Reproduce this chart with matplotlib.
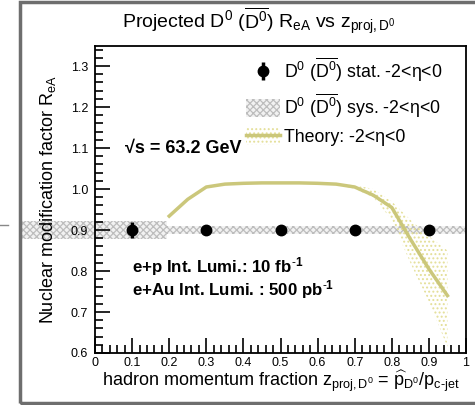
import matplotlib
matplotlib.use('Agg')
import matplotlib.pyplot as plt
from matplotlib.patches import Rectangle, Patch
from matplotlib.lines import Line2D
from matplotlib.ticker import MultipleLocator

plt.rcParams['font.family'] = ['Liberation Sans', 'DejaVu Sans']
plt.rcParams['mathtext.fontset'] = 'custom'
plt.rcParams['mathtext.rm'] = 'Liberation Sans'
plt.rcParams['mathtext.it'] = 'Liberation Sans:italic'
plt.rcParams['mathtext.bf'] = 'Liberation Sans:bold'
plt.rcParams['mathtext.default'] = 'regular'
plt.rcParams['hatch.linewidth'] = 0.9

# projected D0 points
z_pts = [0.1, 0.3, 0.5, 0.7, 0.9]
r_ea = [0.9, 0.9, 0.9, 0.9, 0.9]
stat_err = [0.02, 0.008, 0.005, 0.005, 0.006]

# systematic band segments
sys_lo = [-0.2, 0.195]
sys_hi = [0.195, 1.0]
sys_err = [0.023, 0.009]

# theory curve with its uncertainty band
th_z = [0.2, 0.25, 0.3, 0.35, 0.4, 0.45, 0.5, 0.55, 0.6, 0.65, 0.7, 0.75, 0.8, 0.85, 0.9, 0.95]
th_r = [0.934, 0.975, 1.005, 1.012, 1.014, 1.015, 1.015, 1.015, 1.014, 1.012, 1.005, 0.985, 0.955, 0.878, 0.805, 0.74]
th_lo = [0.934, 0.975, 1.005, 1.012, 1.014, 1.015, 1.015, 1.015, 1.014, 1.012, 1.0, 0.98, 0.925, 0.82, 0.725, 0.615]
th_hi = [0.934, 0.975, 1.005, 1.012, 1.014, 1.015, 1.015, 1.015, 1.014, 1.012, 1.01, 1.0, 0.97, 0.925, 0.885, 0.85]

th_color = '#cbc77b'
sys_face, sys_hatch = '#f2f2f2', '#bdbdbd'
th_dots = '#e4df98'

fig = plt.figure(figsize=(4.75, 4.05), dpi=100)
ax = fig.add_axes([95 / 475, 1 - 353 / 405, 371 / 475, 307 / 405])

for lo, hi, e in zip(sys_lo, sys_hi, sys_err):
    ax.fill_between([lo, hi], [0.9 - e] * 2, [0.9 + e] * 2, facecolor=sys_face,
                    edgecolor=sys_hatch, hatch='xxxxx', linewidth=0, clip_on=False, zorder=1)

ax.fill_between(th_z, th_lo, th_hi, facecolor='none', edgecolor=th_dots,
                hatch='....', linewidth=0, zorder=2)
ax.plot(th_z, th_r, color=th_color, lw=2.5, zorder=3)

eb = ax.errorbar(z_pts, r_ea, yerr=stat_err, fmt='o', color='black', ms=7.5,
                 elinewidth=2.5, capsize=0, zorder=4)

ax.set_xlim(0, 1)
ax.set_ylim(0.6, 1.349)
ax.xaxis.set_minor_locator(MultipleLocator(0.02))
ax.yaxis.set_major_locator(MultipleLocator(0.1))
ax.yaxis.set_minor_locator(MultipleLocator(0.02))
ax.set_xticks([0, 0.1, 0.2, 0.3, 0.4, 0.5, 0.6, 0.7, 0.8, 0.9, 1.0])
ax.set_xticklabels(['0', '0.1', '0.2', '0.3', '0.4', '0.5', '0.6', '0.7', '0.8', '0.9', '1'])
ax.tick_params(which='major', direction='in', length=11, width=1.2, labelsize=9,
               top=False, right=False)
ax.tick_params(which='minor', direction='in', length=5.5, width=1.2, top=False, right=False)
ax.tick_params(axis='y', pad=5)
ax.tick_params(axis='x', pad=3)
for s in ax.spines.values():
    s.set_linewidth(1.3)

ax.set_ylabel('Nuclear modification factor R$_{eA}$', fontsize=13)
ax.yaxis.set_label_coords(-0.1, 0.5)
ax.set_xlabel(r'hadron momentum fraction z$_{proj,D^0}$ = $\widehat{p}_{D^0}$/p$_{c\text{-}jet}$',
              fontsize=13)
ax.xaxis.set_label_coords(0.5, -0.05)

fig.text(0.545, 1 - 21 / 405, r'Projected D$^0$ ($\overline{D^0}$) R$_{eA}$ vs z$_{proj,D^0}$',
         ha='center', va='center', fontsize=14)

ax.text(0.081, 1.10, '√s = 63.2 GeV', fontsize=13, fontweight='bold', va='center')
ax.text(0.100, 0.812, r'e+p Int. Lumi.: 10 fb$^{\mathbf{\text{-}1}}$', fontsize=12.2,
        fontweight='bold', va='center')
ax.text(0.100, 0.755, r'e+Au Int. Lumi. : 500 pb$^{\mathbf{\text{-}1}}$', fontsize=12.2,
        fontweight='bold', va='center')

sys_handle = Patch(facecolor=sys_face, edgecolor=sys_hatch, hatch='xxxxx', linewidth=0)
th_band = Patch(facecolor='none', edgecolor=th_dots, hatch='....', linewidth=0)
th_line = Line2D([], [], color=th_color, lw=2.5)
leg = ax.legend([eb, sys_handle, (th_band, th_line)],
                [r'D$^0$ ($\overline{D^0}$) stat. -2<η<0',
                 r'D$^0$ ($\overline{D^0}$) sys. -2<η<0',
                 'Theory: -2<η<0'],
                loc='upper left', bbox_to_anchor=(246 / 475, 1 - 56 / 405),
                bbox_transform=fig.transFigure, frameon=False, fontsize=12.8,
                handlelength=1.9, handleheight=1.2, handletextpad=0.25,
                labelspacing=0.4, borderaxespad=0, borderpad=0)

# outer grey frame
fig.add_artist(Rectangle((20 / 475, 2 / 405), 480 / 475, 401 / 405, transform=fig.transFigure,
                         fill=False, edgecolor='#6e6e6e', lw=2.5))
fig.add_artist(Line2D([0, 8 / 475], [1 - 225 / 405] * 2, transform=fig.transFigure,
                      color='#888888', lw=1))

fig.savefig('out.png', dpi=100)
